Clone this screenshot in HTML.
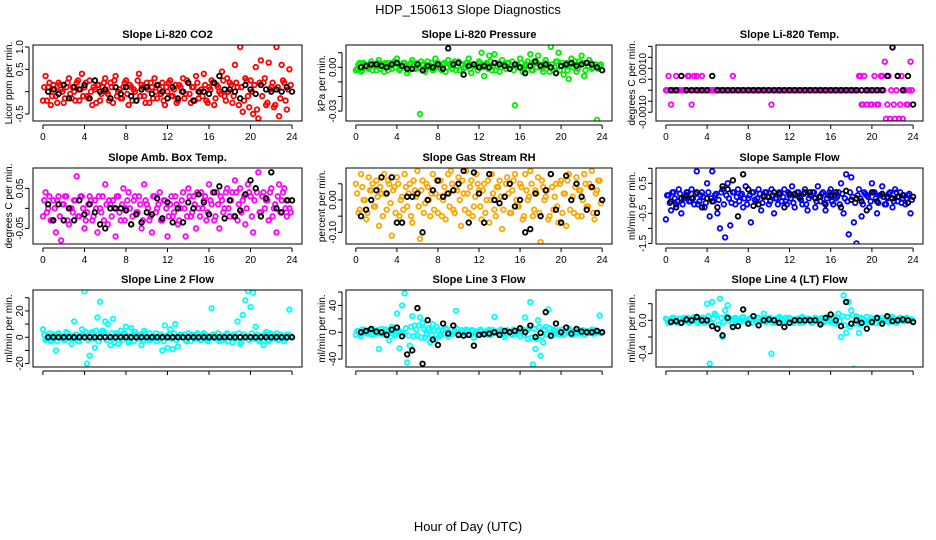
<!DOCTYPE html>
<html><head><meta charset="utf-8"><style>
html,body{margin:0;padding:0;background:#fff;}
svg{display:block;font-family:"Liberation Sans",Arial,sans-serif;}
</style></head><body>
<svg id="fig" width="936" height="540" viewBox="0 0 936 540">
<text x="468" y="14" font-size="13" text-anchor="middle">HDP_150613  Slope Diagnostics</text>
<text x="468" y="531" font-size="13" text-anchor="middle">Hour of Day (UTC)</text>
</svg>
<script>
const colorHours = [0,0.25,0.5,0.75,1,1.25,1.5,1.75,2,2.25,2.5,2.75,3,3.25,3.5,3.75,4,4.25,4.5,4.75,5,5.25,5.5,5.75,6,6.25,6.5,6.75,7,7.25,7.5,7.75,8,8.25,8.5,8.75,9,9.25,9.5,9.75,10,10.25,10.5,10.75,11,11.25,11.5,11.75,12,12.25,12.5,12.75,13,13.25,13.5,13.75,14,14.25,14.5,14.75,15,15.25,15.5,15.75,16,16.25,16.5,16.75,17,17.25,17.5,17.75,18,18.25,18.5,18.75,19,19.25,19.5,19.75,20,20.25,20.5,20.75,21,21.25,21.5,21.75,22,22.25,22.5,22.75,23,23.25,23.5,23.75];
const denseHours = [0.125,0.375,0.625,0.875,1.125,1.375,1.625,1.875,2.125,2.375,2.625,2.875,3.125,3.375,3.625,3.875,4.125,4.375,4.625,4.875,5.125,5.375,5.625,5.875,6.125,6.375,6.625,6.875,7.125,7.375,7.625,7.875,8.125,8.375,8.625,8.875,9.125,9.375,9.625,9.875,10.125,10.375,10.625,10.875,11.125,11.375,11.625,11.875,12.125,12.375,12.625,12.875,13.125,13.375,13.625,13.875,14.125,14.375,14.625,14.875,15.125,15.375,15.625,15.875,16.125,16.375,16.625,16.875,17.125,17.375,17.625,17.875,18.125,18.375,18.625,18.875,19.125,19.375,19.625,19.875,20.125,20.375,20.625,20.875,21.125,21.375,21.625,21.875,22.125,22.375,22.625,22.875,23.125,23.375,23.625,23.875];
const blackHours = [0.5,1,1.5,2,2.5,3,3.5,4,4.5,5,5.5,6,6.5,7,7.5,8,8.5,9,9.5,10,10.5,11,11.5,12,12.5,13,13.5,14,14.5,15,15.5,16,16.5,17,17.5,18,18.5,19,19.5,20,20.5,21,21.5,22,22.5,23,23.5,24];
const xTicks = [0,4,8,12,16,20,24];

const co2Color = [-0.2,0.35,0.1,-0.3,0.15,-0.1,0.2,0.05,-0.25,0.1,0.3,-0.15,0.0,0.2,-0.2,0.4,0.1,-0.1,0.25,-0.3,0.05,0.15,-0.2,0.1,0.3,-0.05,0.2,-0.25,0.35,0.0,-0.15,0.1,0.25,-0.3,0.1,0.05,-0.2,0.4,0.15,-0.1,0.2,-0.25,0.1,0.3,-0.15,0.05,0.2,-0.3,0.0,0.25,-0.1,0.15,-0.2,0.1,0.3,-0.05,0.2,-0.25,0.1,0.35,-0.15,0.05,0.4,-0.2,0.1,0.25,-0.3,0.15,0.0,0.45,-0.1,0.3,0.2,-0.25,0.6,0.1,1.0,-0.45,0.3,-0.1,0.25,-0.5,0.55,-0.6,0.7,0.2,-0.3,0.65,0.1,-0.35,1.0,-0.55,0.6,0.2,-0.4,0.5];
const co2Dense = [0.1,-0.2,0.2,-0.1,0.05,-0.25,0.15,0.0,-0.15,0.2,-0.05,0.1,-0.2,0.25,0.05,-0.1,0.2,-0.15,0.0,0.1,-0.25,0.15,-0.05,0.2,0.0,-0.2,0.1,0.25,-0.1,0.05,-0.15,0.2,-0.05,0.15,-0.2,0.0,0.25,-0.1,0.1,-0.25,0.05,0.2,-0.15,0.0,0.15,-0.05,-0.2,0.1,0.2,-0.1,0.05,-0.25,0.15,0.0,-0.15,0.25,-0.05,0.1,-0.2,0.2,0.0,-0.1,0.15,-0.25,0.05,0.2,-0.15,0.1,-0.05,0.25,-0.2,0.0,0.15,-0.1,0.2,-0.3,0.1,-0.2,0.25,-0.35,0.0,0.15,-0.4,0.2,-0.1,0.3,-0.25,0.05,0.2,-0.3,0.1,-0.15,0.25,-0.2,0.05,0.15];
const co2Black = [0.0,0.05,-0.05,0.15,-0.15,0.1,0.05,0.15,-0.15,0.25,0.0,0.05,-0.15,0.1,-0.05,0.1,-0.1,-0.2,0.05,0.1,-0.05,0.15,0.0,-0.15,0.1,-0.15,0.0,0.2,-0.2,0.0,0.0,-0.05,0.2,0.35,0.05,0.05,0.0,-0.15,0.15,0.05,-0.05,0.15,0.05,0.0,0.05,0.0,0.1,0.0];

const presColor = [-0.002,0.002,-0.003,0.003,0.001,-0.001,0.004,0.002,-0.002,0.005,0.001,-0.003,0.002,0.003,-0.001,0.004,0.006,-0.002,0.001,0.003,-0.004,0.002,0.005,-0.001,0.003,-0.032,0.002,-0.003,0.004,0.001,-0.002,0.006,0.003,-0.001,0.002,-0.003,0.005,0.001,0.003,-0.002,0.004,0.002,-0.001,0.003,0.006,-0.004,0.002,0.001,0.004,0.010,-0.006,0.003,0.008,-0.002,0.009,0.001,-0.003,0.005,0.002,0.003,-0.001,0.004,-0.026,0.002,0.006,-0.003,0.001,0.004,0.009,-0.002,0.003,0.008,0.001,-0.003,0.005,0.002,0.014,-0.002,0.004,0.010,0.001,-0.005,0.003,-0.008,0.006,0.002,-0.003,0.004,0.008,-0.006,0.003,0.005,-0.001,0.002,-0.036,0.001];
const presDense = [-0.001,0.003,-0.002,0.002,0.0,0.002,-0.002,0.001,0.003,-0.001,0.002,0.003,-0.002,0.001,0.003,0.0,0.002,-0.001,0.003,0.0,-0.002,0.003,0.001,-0.001,0.002,0.004,-0.002,0.001,0.0,0.003,-0.001,0.002,0.001,-0.002,0.003,0.0,0.002,-0.001,0.004,0.001,-0.002,0.002,0.0,0.003,-0.001,0.002,0.001,-0.002,0.003,0.0,0.002,-0.001,0.004,0.001,-0.002,0.003,0.0,0.002,-0.001,0.003,0.001,-0.002,0.002,0.0,0.003,-0.001,0.002,0.001,-0.002,0.004,0.0,0.002,-0.001,0.003,0.001,-0.003,0.002,0.0,0.004,-0.002,0.003,0.001,-0.002,0.002,0.0,0.004,-0.001,0.002,0.003,-0.002,0.001,0.003,0.0,0.002,-0.001,0.002];
const presBlack = [0.0,0.001,0.002,0.002,0.001,0.0,0.002,0.003,0.001,-0.001,-0.001,0.002,-0.002,0.001,0.0,0.002,-0.001,0.013,0.002,0.003,-0.005,0.001,0.002,0.0,0.001,0.0,0.003,0.002,0.001,-0.001,0.002,0.0,-0.004,0.001,0.004,0.001,0.002,0.0,-0.004,0.001,0.002,0.003,0.001,0.002,0.003,0.002,0.0,-0.002];

const tempColor = [0,0.00065,-0.00065,0,0.00065,0,0.00065,0,0,0.00065,-0.00065,0.00065,0.00065,0,0.00065,0,0,0,0,0,0,0,0,0,0,0,0.00065,0,0,0,0,0,0,0,0,0,0,0,0,0,0,-0.00065,0,0,0,0,0,0,0,0,0,0,0,0,0,0,0,0,0,0,0,0,0,0,0,0,0,0,0,0,0,0,0,0,0,0.00065,-0.00065,0.00065,-0.00065,0,-0.00065,0.00065,-0.00065,0,0.00065,0.0013,-0.00065,-0.0013,0.00195,-0.0013,0.00065,-0.00065,-0.0013,0,-0.00065,0.0013];
const tempDense = [0,0,0,0,0,0,0,0,0.00065,0,0,0,0,0,0,0,0,0,0,0,0,0,0,0,0,0,0,0,0,0,0,0,0,0,0,0,0,0,0,0,0,0,0,0,0,0,0,0,0,0,0,0,0,0,0,0,0,0,0,0,0,0,0,0,0,0,0,0,0,0,0,0,0,0,0,0.00065,-0.00065,0,0,-0.00065,0,0,-0.00065,0.00065,0,-0.0013,0.00065,0,-0.00065,0,-0.0013,0.00065,0,-0.00065,0,0];
const tempBlack = [0,0,0.00065,0,0,0,0,0,0.00065,0,0,0,0,0,0,0,0,0,0,0,0,0,0,0,0,0,0,0,0,0,0,0,0,0,0,0,0,0,0,0,0,0,0.00065,0.00195,0.00065,0,0.00065,-0.00065];

const ambColor = [-0.02,0.04,0.0,-0.03,0.02,-0.06,0.03,-0.08,0.01,0.03,-0.04,0.0,0.02,0.08,-0.02,0.03,-0.05,-0.01,0.03,-0.03,0.02,-0.06,0.0,0.03,0.06,-0.04,0.01,0.02,-0.07,0.03,-0.03,0.05,0.0,0.04,-0.04,0.02,-0.01,0.03,-0.05,0.06,0.01,-0.03,-0.06,0.03,0.0,0.04,-0.03,0.02,-0.07,0.01,-0.02,0.03,-0.04,0.0,0.04,-0.07,0.05,-0.02,0.03,-0.05,0.0,0.04,0.02,-0.03,0.06,0.01,-0.03,0.04,-0.05,0.02,0.0,0.05,-0.02,0.04,0.07,-0.03,0.05,0.02,-0.04,0.06,0.03,-0.06,0.05,0.09,-0.01,0.04,0.02,-0.03,0.05,0.0,-0.06,0.06,0.02,0.05,-0.02,0.0];
const ambDense = [0.02,-0.01,0.03,-0.03,0.0,0.02,-0.02,0.01,0.03,-0.03,0.0,-0.01,0.02,-0.02,0.03,0.0,-0.03,0.01,0.02,-0.02,0.0,0.03,-0.01,-0.03,0.01,0.02,-0.02,0.0,0.03,-0.01,0.01,-0.03,0.02,0.0,-0.02,0.03,-0.01,0.01,-0.03,0.02,0.0,-0.02,0.03,-0.01,0.01,-0.03,0.02,0.0,-0.02,0.03,-0.01,0.01,-0.03,0.02,0.0,-0.02,0.03,-0.01,0.01,0.04,-0.02,0.0,0.03,-0.01,0.02,0.04,-0.02,0.01,0.03,-0.01,0.04,0.0,0.02,-0.02,0.04,0.01,-0.01,0.03,0.0,0.04,-0.02,0.02,0.04,-0.01,0.03,0.0,0.02,0.04,-0.02,0.01,0.03,-0.01,0.04,0.0,0.02,-0.01];
const ambBlack = [0.01,-0.03,0.01,-0.03,0.0,-0.03,0.02,-0.015,0.01,-0.01,-0.04,-0.05,0.0,0.0,0.0,-0.005,-0.04,-0.015,-0.035,-0.01,-0.015,0.025,-0.025,0.015,-0.035,0.0,-0.035,0.015,0.0,0.035,0.015,-0.015,0.04,0.055,-0.025,0.02,-0.02,-0.005,0.035,0.07,0.05,-0.02,0.025,0.09,0.0,-0.01,0.02,0.02];

const rhColor = [0.05,-0.04,0.08,0.0,-0.06,0.07,0.03,-0.02,0.06,-0.08,0.02,0.08,-0.03,0.05,-0.11,0.04,0.07,-0.05,0.01,0.08,-0.02,0.05,-0.07,0.03,0.09,-0.12,0.06,-0.01,0.04,-0.05,0.08,0.02,-0.04,0.06,0.0,-0.06,0.08,0.09,-0.03,0.04,0.07,-0.08,0.02,0.09,-0.04,0.06,-0.02,0.08,0.03,-0.06,0.05,0.0,-0.07,0.08,-0.03,0.04,0.06,-0.09,0.01,0.07,-0.04,0.03,0.08,-0.02,0.05,-0.06,0.08,0.0,0.09,-0.05,0.03,0.07,-0.13,0.04,0.01,-0.06,0.08,-0.03,0.05,-0.07,0.06,0.02,-0.08,0.08,0.0,-0.04,0.07,0.03,-0.05,0.08,-0.02,0.05,0.09,-0.06,0.03,0.06];
const rhDense = [0.02,-0.03,0.04,0.0,-0.04,0.03,0.05,-0.02,0.01,0.04,-0.05,0.02,0.06,-0.01,0.03,-0.04,0.05,0.0,-0.03,0.04,0.02,-0.05,0.06,0.01,-0.02,0.03,-0.04,0.05,0.0,0.02,-0.03,0.06,0.01,-0.05,0.04,0.02,-0.02,0.05,-0.04,0.03,0.0,0.06,-0.03,0.02,0.04,-0.05,0.01,0.05,-0.02,0.03,-0.04,0.06,0.0,0.02,-0.05,0.04,0.01,-0.03,0.05,0.02,-0.04,0.06,0.0,-0.02,0.04,-0.05,0.03,0.01,0.05,-0.03,0.02,-0.04,0.06,0.0,0.03,-0.05,0.04,0.01,-0.02,0.05,-0.04,0.02,0.06,-0.03,0.01,0.04,-0.05,0.03,0.0,0.05,-0.02,0.04,-0.04,0.02,0.06,-0.01];
const rhBlack = [-0.05,-0.03,0.0,0.03,0.07,0.02,0.07,-0.07,-0.07,0.01,0.01,0.02,-0.1,0.0,0.03,0.06,0.01,0.02,0.03,0.05,0.09,-0.07,0.085,0.02,-0.07,0.08,0.0,-0.01,0.01,0.05,-0.02,0.0,-0.1,-0.09,0.02,-0.05,0.03,0.08,-0.03,-0.07,0.075,0.0,0.05,0.01,-0.03,0.04,-0.04,0.0];

const flowColor = [-0.7,0.1,-0.4,0.2,-0.2,0.3,-0.5,0.0,0.2,-0.1,0.3,-0.2,0.9,-0.1,0.2,-0.3,0.5,-0.6,0.9,0.1,-0.5,-1.0,0.3,-1.3,0.5,-0.9,0.2,-0.2,0.3,0.1,-0.3,0.4,0.0,-0.8,0.2,-0.1,0.3,-0.4,0.1,0.2,-0.2,0.3,-0.5,0.0,0.2,-0.1,0.3,-0.2,0.1,0.4,-0.3,0.2,0.0,-0.2,0.3,-0.4,0.1,0.2,-0.3,0.4,-0.1,0.2,-0.4,0.1,0.3,-0.2,0.0,0.2,0.5,-0.5,0.8,-1.2,0.7,-0.8,-1.5,0.3,-0.6,0.2,0.1,-0.3,0.5,0.2,-0.5,0.1,0.4,-0.2,0.0,0.2,-0.3,0.3,-0.1,0.2,0.0,-0.2,0.1,-0.5];
const flowDense = [0.1,-0.15,0.2,0.0,-0.1,0.15,-0.2,0.05,0.2,-0.1,0.0,0.15,-0.2,0.1,0.05,-0.15,0.2,0.0,-0.1,0.15,-0.05,0.2,-0.2,0.1,0.0,-0.15,0.2,0.05,-0.1,0.15,0.0,-0.2,0.1,0.2,-0.05,0.0,0.15,-0.15,0.2,0.05,-0.1,0.1,0.0,-0.2,0.15,0.05,-0.1,0.2,0.0,-0.15,0.1,0.2,-0.05,0.15,-0.2,0.0,0.1,0.2,-0.1,0.05,0.15,-0.15,0.0,0.2,-0.1,0.1,0.05,-0.2,0.15,0.0,-0.1,0.2,0.05,-0.15,0.1,0.0,-0.2,0.15,0.05,-0.1,0.2,0.0,-0.15,0.1,0.05,-0.2,0.15,0.0,-0.1,0.2,0.05,-0.15,0.1,0.0,0.15,-0.05];
const flowBlack = [-0.1,-0.3,0.0,0.1,0.0,0.2,-0.3,0.0,-0.1,-0.3,0.4,0.3,0.6,-0.6,0.8,0.3,-0.25,-0.2,0.05,0.05,0.2,0.15,-0.3,0.15,0.15,0.05,0.2,0.2,0.0,0.05,-0.2,0.1,0.2,-0.3,0.25,-0.05,0.0,-0.1,-0.4,0.2,-0.1,0.15,0.05,0.0,0.05,0.1,-0.15,0.05];

const line2Color = [6,-2,1,-3,2,-10,3,0,-2,4,1,-5,12,2,-3,6,35,-20,-14,4,-8,15,27,5,12,10,-6,14,3,-5,5,2,8,-4,7,-3,2,1,-6,5,-2,3,-1,0,-3,2,-10,9,-8,6,-9,10,-7,2,0,-2,3,-3,1,-1,2,-2,3,-1,-2,22,2,0,-3,1,-2,3,1,-4,2,12,-5,17,28,35,23,34,8,-2,1,-6,4,-3,2,-1,3,-2,1,-3,2,21];
const line2Dense = [2,-1,3,-2,1,-3,2,0,-2,3,1,-1,2,-3,1,2,4,-2,3,-1,5,-3,2,4,-2,1,3,-4,2,0,-2,3,1,-3,2,4,-1,2,-2,3,0,-2,1,3,-1,2,-3,1,2,-1,3,-2,1,0,2,-3,1,2,-1,3,-2,1,2,-3,1,2,-1,3,-2,1,2,-3,0,2,-1,3,-4,2,1,-2,3,-1,2,-3,1,2,-2,3,-1,1,-2,2,0,-1,2,1];
const line2Black = [0,0,0,0,0,0,0,0,0,0,0,0,0,0,0,0,0,0,0,0,0,0,0,0,0,0,0,0,0,0,0,0,0,0,0,0,0,0,0,0,0,0,0,0,0,0,0,0];

const line3Color = [-4,2,-6,4,0,3,-3,2,-2,-25,5,-3,3,-12,8,-5,28,-24,40,58,-45,-20,24,10,-5,22,14,-8,5,-15,12,-10,3,-4,2,6,-6,4,0,32,-3,2,-5,4,-2,3,-8,1,-4,2,0,-3,4,-2,23,1,-3,2,-7,3,0,-4,2,-1,-6,4,22,-10,45,-48,-25,18,-35,-15,8,34,-6,4,-2,3,0,-4,2,5,-3,1,-2,3,0,-3,2,-1,4,-2,0,25];
const line3Dense = [2,-3,4,0,-2,3,-4,1,3,-2,0,4,-3,2,1,-4,3,0,-2,6,-5,8,-6,4,10,-8,5,-3,6,-4,2,8,-6,3,-2,4,0,-3,2,5,-4,3,-1,2,-4,3,0,-2,4,-3,1,2,-4,3,0,-2,4,-3,2,1,-3,4,-2,0,3,-4,2,6,-8,5,-10,8,-6,4,-3,6,-5,2,0,-3,4,-2,1,3,-4,2,0,-2,3,-3,1,2,-2,3,0,-1];
const line3Black = [0,2,5,1,0,-4,4,7,-6,-33,-27,36,-47,18,-11,-19,13,-2,10,-4,-5,-4,-20,-4,-3,-2,0,-4,2,0,2,6,0,10,-7,-1,30,-5,13,0,7,-2,5,1,0,0,2,0];

const line4Color = [0.02,-0.03,0.01,0.03,-0.01,0.02,-0.02,0.03,0.0,-0.03,0.02,0.04,-0.02,0.01,0.03,-0.03,0.2,-0.52,0.22,0.08,-0.1,0.26,-0.2,0.12,0.18,0.02,-0.04,0.03,0.01,-0.02,0.04,0.0,-0.03,0.02,0.01,-0.02,0.03,0.0,0.08,-0.02,0.02,-0.4,0.01,-0.03,0.04,0.0,0.02,-0.02,0.03,-0.01,0.0,0.02,-0.03,0.04,-0.01,0.02,0.0,-0.02,0.03,0.01,-0.03,0.02,0.0,0.03,-0.02,0.04,-0.04,0.08,-0.2,0.3,-0.15,0.22,0.12,-0.58,0.05,-0.15,0.03,-0.02,0.04,0.0,-0.03,0.02,0.01,-0.02,0.03,0.0,-0.01,0.02,0.04,-0.02,0.01,0.03,-0.01,0.0,0.02,0.0];
const line4Dense = [0.01,-0.02,0.03,0.0,-0.03,0.02,0.01,-0.01,0.03,-0.02,0.0,0.02,-0.03,0.01,0.03,-0.01,0.05,-0.04,0.02,0.06,-0.05,0.03,-0.02,0.04,0.0,-0.03,0.02,0.01,-0.02,0.03,0.0,-0.01,0.02,-0.03,0.01,0.03,-0.02,0.0,0.02,-0.01,0.03,-0.03,0.01,0.02,-0.02,0.0,0.03,-0.01,0.02,-0.03,0.01,0.0,0.03,-0.02,0.01,0.02,-0.03,0.0,0.02,-0.01,0.03,-0.02,0.01,0.0,0.02,-0.03,0.03,-0.01,0.05,-0.06,0.04,-0.08,0.06,-0.04,0.03,-0.05,0.02,0.0,-0.02,0.03,0.01,-0.03,0.02,0.0,-0.01,0.03,-0.02,0.01,0.02,-0.03,0.0,0.02,-0.01,0.03,0.0,0.01];
const line4Black = [-0.02,-0.01,-0.03,0.01,0.0,0.04,0.0,0.0,-0.07,-0.1,-0.18,0.03,-0.08,-0.07,0.13,-0.04,0.05,-0.06,0.0,0.01,0.0,-0.03,-0.08,-0.03,0.0,0.0,0.0,0.0,0.0,-0.05,0.03,0.07,0.0,-0.07,0.22,-0.04,0.0,-0.03,-0.1,-0.02,0.03,-0.04,0.05,-0.01,0.0,0.01,0.0,-0.02];

const co2Ticks = [-0.5,0,0.5,1.0];          const co2Labels = ["-0.5","","0.5","1.0"];
const presTicks = [-0.03,-0.02,-0.01,0,0.01]; const presLabels = ["-0.03","","","0.00",""];
const tempTicks = [-0.001,-0.0005,0,0.0005,0.001,0.0015,0.002]; const tempLabels = ["-0.0010","","","","0.0010","",""];
const ambTicks = [-0.05,0,0.05];            const ambLabels = ["-0.05","","0.05"];
const rhTicks = [-0.15,-0.1,-0.05,0,0.05];  const rhLabels = ["","-0.10","","0.00",""];
const flowTicks = [-1.5,-1,-0.5,0,0.5,1];   const flowLabels = ["-1.5","","-0.5","","0.5",""];
const line2Ticks = [-20,-10,0,10,20,30];    const line2Labels = ["-20","","0","","20",""];
const line3Ticks = [-40,-20,0,20,40,60];    const line3Labels = ["-40","","0","","40",""];
const line4Ticks = [-0.4,-0.2,0,0.2];       const line4Labels = ["-0.4","","0.0",""];

const NS = "http://www.w3.org/2000/svg";
const svg = document.getElementById("fig");
function mk(tag, attrs, parent){
  const e = document.createElementNS(NS, tag);
  for (const k in attrs) e.setAttribute(k, attrs[k]);
  (parent||svg).appendChild(e);
  return e;
}
const defs = mk("defs",{});
const cols = [[33,302],[346,612],[656,923]];
const rows = [[45,121],[168,244],[290,367]];
const panels = [
 {slug:"co2",title:"Slope Li-820 CO2",ylab:"Licor ppm per min.",ylim:[-0.657,1.045],ticks:co2Ticks,labels:co2Labels,color:"#ff0000",c:co2Color,d:co2Dense,b:co2Black},
 {slug:"pressure",title:"Slope Li-820 Pressure",ylab:"kPa per min.",ylim:[-0.0368,0.0153],ticks:presTicks,labels:presLabels,color:"#00ee00",c:presColor,d:presDense,b:presBlack},
 {slug:"temp",title:"Slope Li-820 Temp.",ylab:"degrees C per min.",ylim:[-0.0014,0.00206],ticks:tempTicks,labels:tempLabels,color:"#ff00ff",c:tempColor,d:tempDense,b:tempBlack},
 {slug:"amb-box-temp",title:"Slope Amb. Box Temp.",ylab:"degrees C per min.",ylim:[-0.089,0.1008],ticks:ambTicks,labels:ambLabels,color:"#ff00ff",c:ambColor,d:ambDense,b:ambBlack},
 {slug:"gas-rh",title:"Slope Gas Stream RH",ylab:"percent per min.",ylim:[-0.136,0.0988],ticks:rhTicks,labels:rhLabels,color:"#ffa500",c:rhColor,d:rhDense,b:rhBlack},
 {slug:"sample-flow",title:"Slope Sample Flow",ylab:"ml/min per min.",ylim:[-1.52,1.01],ticks:flowTicks,labels:flowLabels,color:"#0000ff",c:flowColor,d:flowDense,b:flowBlack},
 {slug:"line2-flow",title:"Slope Line 2 Flow",ylab:"ml/min per min.",ylim:[-22.6,35.9],ticks:line2Ticks,labels:line2Labels,color:"#00ffff",c:line2Color,d:line2Dense,b:line2Black},
 {slug:"line3-flow",title:"Slope Line 3 Flow",ylab:"ml/min per min.",ylim:[-51.8,63],ticks:line3Ticks,labels:line3Labels,color:"#00ffff",c:line3Color,d:line3Dense,b:line3Black},
 {slug:"line4-flow",title:"Slope Line 4 (LT) Flow",ylab:"ml/min per min.",ylim:[-0.56,0.364],ticks:line4Ticks,labels:line4Labels,color:"#00ffff",c:line4Color,d:line4Dense,b:line4Black}
];
panels.forEach((p,i)=>{
  const [x0,x1] = cols[i%3], [y0,y1] = rows[Math.floor(i/3)];
  const row = Math.floor(i/3);
  const cp = mk("clipPath",{id:"clip"+i},defs);
  mk("rect",{x:x0,y:y0,width:x1-x0,height:y1-y0},cp);
  const g = mk("g",{});
  
  
  const xs = v => x0 + (v+0.96)/25.92*(x1-x0);
  const ys = v => y1 - (v-p.ylim[0])/(p.ylim[1]-p.ylim[0])*(y1-y0);
  const cx = (x0+x1)/2;
  const t = mk("text",{x:cx,y:y0-7,"font-size":11,"font-weight":"bold","text-anchor":"middle"},g);
  t.textContent = p.title;
  
  
  const yl = mk("text",{x:0,y:0,"font-size":10,"text-anchor":"middle",transform:`translate(${x0-21},${(y0+y1)/2}) rotate(-90)`},g);
  yl.textContent = p.ylab;
  
  
  const pts = mk("g",{fill:"none","stroke-width":1.8,"clip-path":`url(#clip${i})`},g);
  
  
  p.d.forEach((v,k)=>{
    const c = mk("circle",{cx:xs(denseHours[k]),cy:ys(v),r:2.3,stroke:p.color},pts);
    
    
  });
  p.c.forEach((v,k)=>{
    const c = mk("circle",{cx:xs(colorHours[k]),cy:ys(v),r:2.3,stroke:p.color},pts);
    
    
  });
  p.b.forEach((v,k)=>{
    const c = mk("circle",{cx:xs(blackHours[k]),cy:ys(v),r:2.3,stroke:"#000"},pts);
    
    
  });
  const box = mk("rect",{x:x0,y:y0,width:x1-x0,height:y1-y0,fill:"none",stroke:"#000","stroke-width":1},g);
  
  
  const xa = mk("g",{},g);
  
  
  mk("line",{x1:xs(xTicks[0]),x2:xs(xTicks[xTicks.length-1]),y1:y1+4,y2:y1+4,stroke:"#000"},xa);
  xTicks.forEach(v=>{
    mk("line",{x1:xs(v),x2:xs(v),y1:y1+4,y2:y1+8,stroke:"#000"},xa);
    if(row<2){
      const l = mk("text",{x:xs(v),y:y1+19,"font-size":10,"text-anchor":"middle"},xa);
      l.textContent = v;
      
      
    }
  });
  const ya = mk("g",{},g);
  
  
  const inT = p.ticks.filter(v=>v>=p.ylim[0]&&v<=p.ylim[1]);
  mk("line",{x1:x0-4,x2:x0-4,y1:ys(inT[0]),y2:ys(inT[inT.length-1]),stroke:"#000"},ya);
  p.ticks.forEach((v,k)=>{
    if(v<p.ylim[0]||v>p.ylim[1]) return;
    mk("line",{x1:x0-8,x2:x0-4,y1:ys(v),y2:ys(v),stroke:"#000"},ya);
    if(p.labels[k]){
      const l = mk("text",{x:0,y:0,"font-size":10,"text-anchor":"middle",transform:`translate(${x0-10},${ys(v)}) rotate(-90)`},ya);
      l.textContent = p.labels[k];
      
      
    }
  });
});
</script>
</body></html>
